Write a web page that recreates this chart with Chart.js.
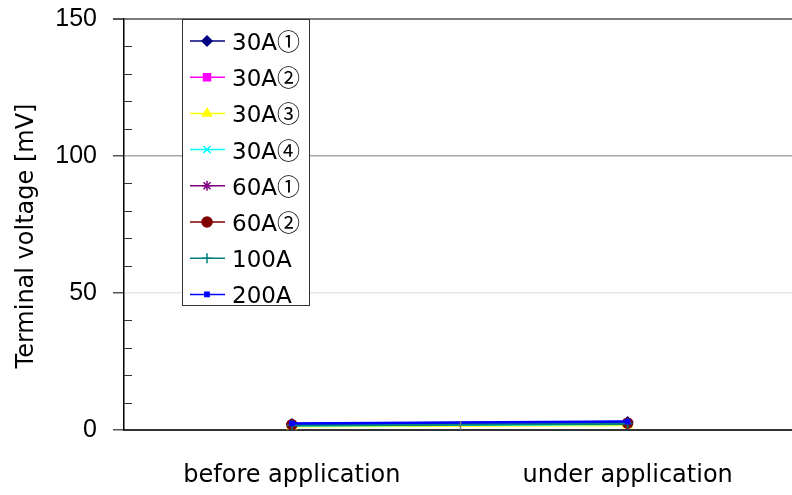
<!DOCTYPE html>
<html>
<head>
<meta charset="utf-8">
<script src="https://cdn.jsdelivr.net/npm/chart.js@4/dist/chart.umd.min.js"></script>
<style>
    html, body { margin: 0; padding: 0; background: #fff; overflow: hidden; }
    #wrap { width: 802px; height: 495px; }
</style>
</head>
<body>
<div id="wrap"><canvas id="chart" width="802" height="495"></canvas></div>
<script>
// data
const categories = ['before application', 'under application'];
const seriesNames = ['30A①', '30A②', '30A③', '30A④', '60A①', '60A②', '100A', '200A'];
const v30A1 = [2.2, 2.9];
const v30A2 = [1.8, 2.3];
const v30A3 = [1.4, 1.8];
const v30A4 = [1.6, 2.2];
const v60A1 = [2.0, 2.6];
const v60A2 = [1.9, 2.5];
const v100A = [1.7, 2.4];
const v200A = [2.4, 3.1];
const yTicks = [0, 50, 100, 150];
const yMinor = [10, 20, 30, 40, 60, 70, 80, 90, 110, 120, 130, 140];
const yTitle = 'Terminal voltage [mV]';

const seriesValues = [v30A1, v30A2, v30A3, v30A4, v60A1, v60A2, v100A, v200A];
const colors = ['#000080', '#ff00ff', '#ffff00', '#00ffff', '#800080', '#800000', '#008080', '#0000ff'];
const markers = ['rectRot', 'rect', 'triangle', 'crossRot', 'star', 'circle', 'cross', 'rect'];
const radii = [5, 5, 5, 5, 5, 5, 5, 3];

const datasets = seriesNames.map((name, i) => ({
    label: name,
    data: seriesValues[i],
    borderColor: colors[i],
    backgroundColor: colors[i],
    borderWidth: 2.5,
    pointStyle: markers[i],
    pointRadius: radii[i],
    pointBorderWidth: 1.5,
    order: seriesNames.length - i
}));

// minor ticks, middle x tick, title and boxed legend
const extras = {
    id: 'extras',
    afterDraw(chart) {
        const ctx = chart.ctx;
        const y = chart.scales.y;
        const area = chart.chartArea;
        ctx.save();
        ctx.strokeStyle = '#333';
        ctx.lineWidth = 1;
        yMinor.forEach(v => {
            const py = Math.round(y.getPixelForValue(v)) + 0.5;
            ctx.beginPath();
            ctx.moveTo(area.left, py);
            ctx.lineTo(area.left + 8, py);
            ctx.stroke();
        });
        // tick between the two categories
        const mx = Math.round((chart.scales.x.getPixelForValue(0) + chart.scales.x.getPixelForValue(1)) / 2) + 0.5;
        ctx.strokeStyle = '#777';
        ctx.lineWidth = 1.5;
        ctx.beginPath();
        ctx.moveTo(mx, area.bottom);
        ctx.lineTo(mx, area.bottom - 9);
        ctx.stroke();

        // y title
        ctx.fillStyle = '#000';
        ctx.font = '24px "DejaVu Sans", sans-serif';
        ctx.textAlign = 'center';
        ctx.textBaseline = 'middle';
        ctx.translate(27, 236);
        ctx.rotate(-Math.PI / 2);
        ctx.fillText(yTitle, 0, 0);
        ctx.restore();

        // legend
        ctx.save();
        const lx = 182, ly = 19, lw = 127, lh = 286;
        ctx.fillStyle = '#fff';
        ctx.fillRect(lx, ly, lw, lh);
        ctx.strokeStyle = '#333';
        ctx.lineWidth = 1;
        ctx.strokeRect(lx + 0.5, ly + 0.5, lw, lh);
        ctx.textAlign = 'left';
        ctx.textBaseline = 'alphabetic';
        seriesNames.forEach((name, i) => {
            const ry = 41 + i * 36.2;
            ctx.strokeStyle = colors[i];
            ctx.lineWidth = 1.5;
            ctx.beginPath();
            ctx.moveTo(190, ry);
            ctx.lineTo(225, ry);
            ctx.stroke();
            ctx.fillStyle = colors[i];
            Chart.helpers.drawPoint(ctx, {
                pointStyle: markers[i],
                radius: i === 7 ? 3 : 5,
                rotation: 0,
                borderWidth: 1.5
            }, 207, ry);
            // plain part in DejaVu, circled digit in the CJK font (larger circle)
            const plain = name.replace(/[①-⑳]/g, '');
            const circled = name.slice(plain.length);
            ctx.fillStyle = '#000';
            ctx.font = '23px "DejaVu Sans", sans-serif';
            ctx.fillText(plain, 232, ry + 9);
            if (circled) {
                const w = ctx.measureText(plain).width;
                ctx.font = '23px "Noto Sans CJK JP", sans-serif';
                ctx.fillText(circled, 232 + w, ry + 9);
            }
        });
        ctx.restore();
    }
};

const gridColor = ctx => {
    const v = ctx.tick && ctx.tick.value;
    if (v === 150) return '#7a7a7a';
    if (v === 100) return '#a8a8a8';
    if (v === 50) return '#e6e6e6';
    return 'rgba(0,0,0,0)';
};

new Chart(document.getElementById('chart'), {
    type: 'line',
    data: { labels: categories, datasets: datasets },
    options: {
        responsive: false,
        animation: false,
        layout: { padding: { top: 19, right: 2, left: 0, bottom: 0 } },
        plugins: { legend: { display: false }, tooltip: { enabled: false } },
        scales: {
            x: {
                type: 'category',
                offset: true,
                grid: { display: true, drawOnChartArea: false, drawTicks: false, color: 'rgba(0,0,0,0)' },
                border: { display: true, color: '#333', width: 2 },
                ticks: { color: '#000', padding: 31, font: { family: 'DejaVu Sans', size: 24 } },
                afterFit: s => { s.height = 65; s.paddingLeft = 0; s.paddingRight = 0; }
            },
            y: {
                min: 0,
                max: 150,
                afterBuildTicks: s => { s.ticks = yTicks.map(v => ({ value: v })); },
                grid: { color: gridColor, lineWidth: ctx => (ctx.tick && ctx.tick.value === 150 ? 2 : 1.5), tickLength: 11, tickColor: '#555' },
                border: { display: true, color: '#000', width: 1.5 },
                ticks: { color: '#000', padding: 16, font: { family: 'Liberation Sans', size: 25 } },
                afterFit: s => { s.width = 124; s.paddingTop = 0; s.paddingBottom = 0; }
            }
        }
    },
    plugins: [extras]
});
</script>
</body>
</html>
